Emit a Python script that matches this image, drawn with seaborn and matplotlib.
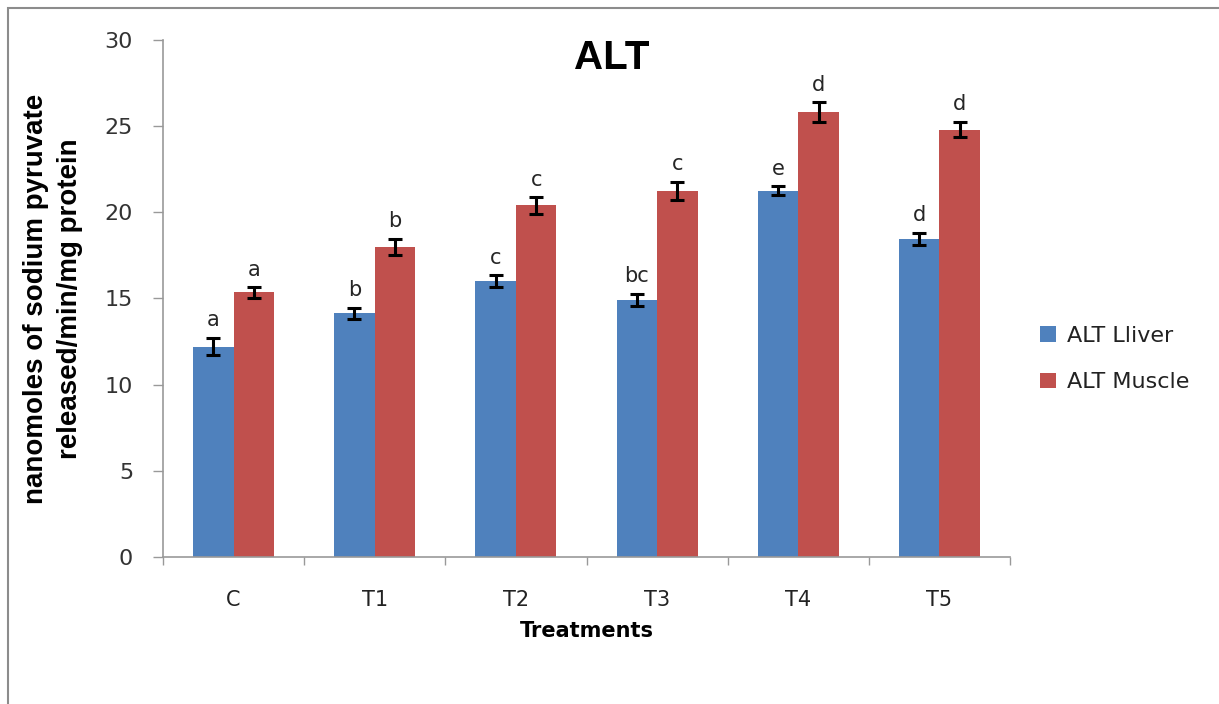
import matplotlib
matplotlib.use("Agg")
import matplotlib.pyplot as plt
import seaborn as sns
import pandas as pd
from matplotlib.patches import Rectangle

treatments = ["C", "T1", "T2", "T3", "T4", "T5"]
series = ["ALT Lliver", "ALT Muscle"]
liver = [12.2, 14.15, 16.0, 14.9, 21.25, 18.45]
muscle = [15.35, 18.0, 20.4, 21.25, 25.8, 24.8]
liver_err = [0.5, 0.32, 0.34, 0.35, 0.25, 0.34]
muscle_err = [0.3, 0.47, 0.47, 0.52, 0.58, 0.45]
liver_sig = ["a", "b", "c", "bc", "e", "d"]
muscle_sig = ["a", "b", "c", "c", "d", "d"]

df = pd.DataFrame({
    "Treatment": treatments * 2,
    "Series": [series[0]] * 6 + [series[1]] * 6,
    "value": liver + muscle,
})

sns.set_theme(style="white")
plt.rcParams["font.family"] = ["DejaVu Sans"]

fig = plt.figure(figsize=(12.19, 7.04), dpi=100)
ax = fig.add_axes([0.1337, 0.2088, 0.6949, 0.7344])

palette = {series[0]: "#4F81BD", series[1]: "#C0504D"}
sns.barplot(data=df, x="Treatment", y="value", hue="Series", order=treatments,
            hue_order=series, palette=palette, width=0.574, saturation=1,
            errorbar=None, ax=ax, edgecolor="none", legend=True)

errs = [liver_err, muscle_err]
sigs = [liver_sig, muscle_sig]
for cont, err, sig in zip(ax.containers, errs, sigs):
    xs = [p.get_x() + p.get_width() / 2 for p in cont.patches]
    hs = [p.get_height() for p in cont.patches]
    ax.errorbar(xs, hs, yerr=err, fmt="none", ecolor="black", elinewidth=2.2,
                capsize=5, capthick=2.2, zorder=5)
    for x, h, e, s in zip(xs, hs, err, sig):
        ax.text(x, h + e + 0.45, s, ha="center", va="bottom", fontsize=15,
                color="#262626")

ax.set_ylim(0, 30)
ax.set_xlim(-0.5, 5.5)
ax.set_yticks(range(0, 31, 5))
ax.tick_params(axis="y", which="major", left=True, length=7.5, width=1,
               color="#999999", labelsize=16, labelcolor="#333333", pad=14)
ax.set_xticks([i - 0.5 for i in range(7)], minor=True)
ax.tick_params(axis="x", which="minor", bottom=True, length=6, width=1,
               color="#999999")
ax.tick_params(axis="x", which="major", bottom=False, labelsize=15,
               labelcolor="#222222", pad=18)

for side in ["top", "right"]:
    ax.spines[side].set_visible(False)
for side in ["left", "bottom"]:
    ax.spines[side].set_color("#999999")
    ax.spines[side].set_linewidth(1.2)

ax.set_xlabel("Treatments", fontsize=15, fontweight="bold", labelpad=8,
              color="black")
ax.set_ylabel("nanomoles of sodium pyruvate\nreleased/min/mg protein",
              fontsize=20, fontweight="bold", family="Liberation Sans",
              linespacing=1.4, labelpad=16, color="black")
ax.text(0.530, 0.965, "ALT", transform=ax.transAxes, ha="center",
        va="center", fontsize=29, fontweight="bold",
        family="Liberation Sans", color="black")

leg = ax.legend(loc="center left", bbox_to_anchor=(1.012, 0.383),
                frameon=False, fontsize=16, handlelength=0.7,
                handleheight=0.7, labelspacing=1.2, handletextpad=0.5)
for t in leg.get_texts():
    t.set_color("#222222")

fig.patches.append(Rectangle((8 / 1219, -0.1), 1.2, 1 - 8 / 704 + 0.1,
                             transform=fig.transFigure, fill=False,
                             edgecolor="#8c8c8c", linewidth=1.5))

fig.savefig("out.png", dpi=100, facecolor="white")
